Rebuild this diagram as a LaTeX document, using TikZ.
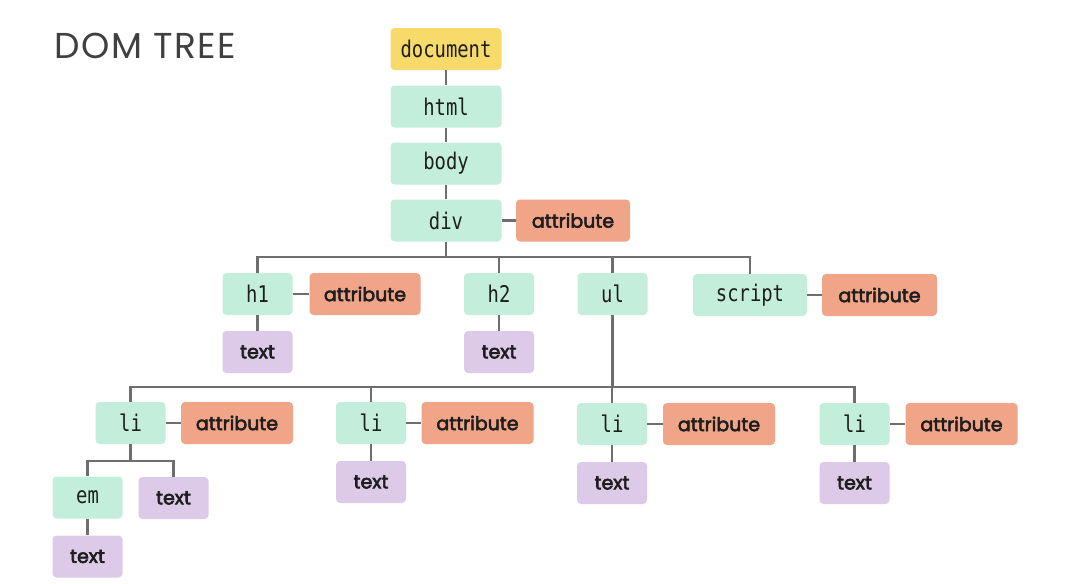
\documentclass[tikz,border=0pt]{standalone}
\usepackage{fontspec}
\setmainfont{Poppins}
\newfontfamily\titlefont[LetterSpace=4]{Poppins}
\newfontfamily\codefont[FakeStretch=0.82]{DejaVu Sans Mono}
\newfontfamily\labelfont[FakeBold=3]{Poppins}
\definecolor{mint}{RGB}{196,238,220}
\definecolor{docyel}{RGB}{247,218,106}
\definecolor{salmon}{RGB}{240,164,136}
\definecolor{lilac}{RGB}{221,202,232}
\definecolor{linegray}{RGB}{110,110,110}
\definecolor{ink}{RGB}{30,30,30}
\tikzset{
  box/.style={rounded corners=4pt, inner sep=0pt, minimum height=42pt, text=ink},
  elem/.style={box, fill=mint, minimum width=70pt, font=\codefont\fontsize{23}{26}\selectfont},
  wideelem/.style={elem, minimum width=111pt},
  docnode/.style={box, fill=docyel, minimum width=111pt, font=\codefont\fontsize{23}{26}\selectfont},
  attr/.style={box, fill=salmon, minimum width=112pt, font=\labelfont\fontsize{19}{22}\selectfont},
  txt/.style={box, fill=lilac, minimum width=70pt, font=\labelfont\fontsize{19}{22}\selectfont},
  conn/.style={draw=linegray, line width=2.4pt},
}
\begin{document}
\begin{tikzpicture}[x=1pt,y=-1pt]
\useasboundingbox (0,0) rectangle (1077,584);
\fill[white] (0,0) rectangle (1077,584);
\node[anchor=west, text=ink!85, font=\titlefont\fontsize{36}{40}\selectfont] (title) at (51,46) {DOM TREE};
% main spine
\node[docnode] (doc) at (446,49) {document};
\node[wideelem] (html) at (446,106.5) {html};
\node[wideelem] (body) at (446,163.5) {body};
\node[wideelem] (div) at (446,220.5) {div};
\node[attr, minimum width=114pt] (divattr) at (573,220.5) {attribute};
% row 4
\node[elem] (h1) at (257.5,294) {h1};
\node[attr, minimum width=111pt] (h1attr) at (365,294) {attribute};
\node[txt] (h1txt) at (257.5,352) {text};
\node[elem] (h2) at (499,294) {h2};
\node[txt] (h2txt) at (499,352) {text};
\node[elem] (ul) at (612.5,294) {ul};
\node[elem, minimum width=114pt] (script) at (750,295) {script};
\node[attr, minimum width=115pt] (scriptattr) at (879.5,295) {attribute};
% li row
\node[elem] (li1) at (130.5,423) {li};
\node[attr] (li1attr) at (237,423) {attribute};
\node[elem] (em) at (87.5,497.5) {em};
\node[txt] (li1txt) at (173.5,498) {text};
\node[txt] (emtxt) at (87.5,556.5) {text};
\node[elem] (li2) at (371,423) {li};
\node[attr] (li2attr) at (477.5,423) {attribute};
\node[txt] (li2txt) at (371,482) {text};
\node[elem] (li3) at (612,424) {li};
\node[attr] (li3attr) at (719,424) {attribute};
\node[txt] (li3txt) at (612,483) {text};
\node[elem] (li4) at (854.5,424) {li};
\node[attr] (li4attr) at (961.5,424) {attribute};
\node[txt] (li4txt) at (854.5,483) {text};
% bus coordinates
\coordinate (busA) at (446,257);
\coordinate (busB) at (612.5,387);
\coordinate (busC) at (130.5,461);
% connectors
\draw[conn] (doc) -- (html);
\draw[conn] (html) -- (body);
\draw[conn] (body) -- (div);
\draw[conn] (div) -- (divattr);
\draw[conn] (div.south) -- (busA);
\draw[conn] (h1.north) |- (busA) -| (script.north);
\draw[conn] (h2.north) -- (h2.north |- busA);
\draw[conn] (ul.north) -- (ul.north |- busA);
\draw[conn] (h1) -- (h1attr);
\draw[conn] (h1) -- (h1txt);
\draw[conn] (h2) -- (h2txt);
\draw[conn] (script) -- (scriptattr);
\draw[conn] (ul.south) -- (busB);
\draw[conn] (li1.north) |- (busB) -| (li4.north);
\draw[conn] (li2.north) -- (li2.north |- busB);
\draw[conn] (li3.north) -- (li3.north |- busB);
\draw[conn] (li1) -- (li1attr);
\draw[conn] (li2) -- (li2attr);
\draw[conn] (li3) -- (li3attr);
\draw[conn] (li4) -- (li4attr);
\draw[conn] (li2) -- (li2txt);
\draw[conn] (li3) -- (li3txt);
\draw[conn] (li4) -- (li4txt);
\draw[conn] (li1.south) -- (busC);
\draw[conn] (em.north) |- (busC) -| (li1txt.north);
\draw[conn] (em) -- (emtxt);
\end{tikzpicture}
\end{document}
